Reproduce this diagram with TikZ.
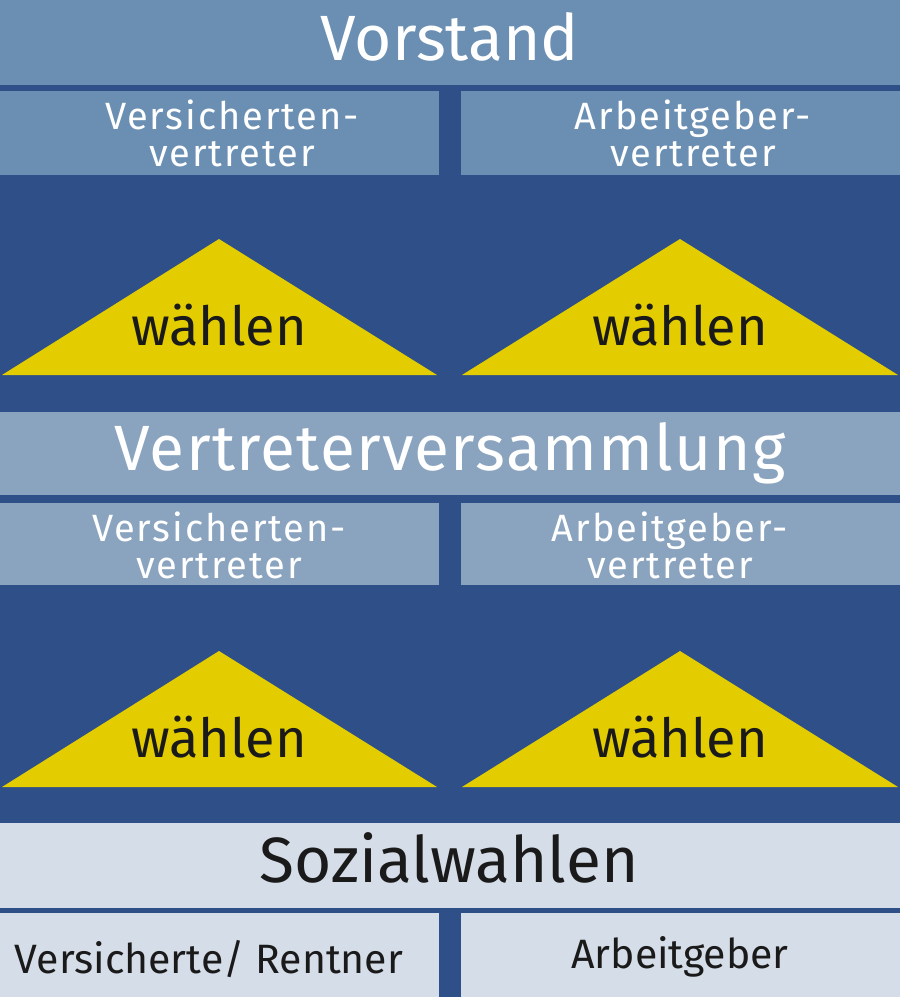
\documentclass[tikz,border=0pt]{standalone}
\usepackage{fontspec}
\setmainfont{Fira Sans}
\newfontfamily\subfont{Fira Sans}[LetterSpace=5]
\newfontfamily\widefont{Fira Sans}[LetterSpace=2]
\definecolor{bgblue}{HTML}{2E4F87}
\definecolor{barA}{HTML}{6B8FB2}
\definecolor{barB}{HTML}{8AA4BF}
\definecolor{barC}{HTML}{D5DDE8}
\definecolor{tri}{HTML}{E3CC00}
\definecolor{ink}{HTML}{1A1A1A}
\begin{document}
\begin{tikzpicture}[x=1pt,y=-1pt,
  title/.style={font=\fontsize{64}{70}\selectfont,anchor=base},
  sub/.style={font=\subfont\fontsize{38}{37}\selectfont,align=center,anchor=base},
  vote/.style={font=\fontsize{54}{60}\selectfont,text=ink,anchor=base},
  low/.style={font=\fontsize{41}{46}\selectfont,text=ink,anchor=base}]
\useasboundingbox (0,0) rectangle (900,997);
\fill[bgblue] (0,0) rectangle (900,997);
% Vorstand section
\fill[barA] (0,0) rectangle (900,85);
\fill[barA] (0,91) rectangle (439,175);
\fill[barA] (461,91) rectangle (900,175);
\fill[tri] (2,375) -- (219,239) -- (437,375) -- cycle;
\fill[tri] (462,375) -- (680,239) -- (898,375) -- cycle;
% Vertreterversammlung section
\fill[barB] (0,412) rectangle (900,495);
\fill[barB] (0,503) rectangle (439,585);
\fill[barB] (461,503) rectangle (900,585);
\fill[tri] (2,787) -- (219,651) -- (437,787) -- cycle;
\fill[tri] (462,787) -- (680,651) -- (898,787) -- cycle;
% Sozialwahlen section
\fill[barC] (0,823) rectangle (900,908);
\fill[barC] (0,913) rectangle (439,997);
\fill[barC] (461,913) rectangle (900,997);
% texts
\node[title,text=white] (vorstand) at (450,60) {Vorstand};
\node[sub,text=white] (vsA) at (232,166) {Versicherten-\\vertreter};
\node[sub,text=white] (agA) at (693,166) {Arbeitgeber-\\vertreter};
\node[vote] (w1) at (219,345) {wählen};
\node[vote] (w2) at (680,345) {wählen};
\node[title,text=white,font=\widefont\fontsize{64}{70}\selectfont] (vv) at (450,470) {Vertreterversammlung};
\node[sub,text=white] (vsB) at (219,578) {Versicherten-\\vertreter};
\node[sub,text=white] (agB) at (670,578) {Arbeitgeber-\\vertreter};
\node[vote] (w3) at (219,757) {wählen};
\node[vote] (w4) at (680,757) {wählen};
\node[title,text=ink] (soz) at (449,882) {Sozialwahlen};
\node[low] (vr) at (209,973) {Versicherte/ Rentner};
\node[low] (ag) at (680,968) {Arbeitgeber};
\end{tikzpicture}
\end{document}
